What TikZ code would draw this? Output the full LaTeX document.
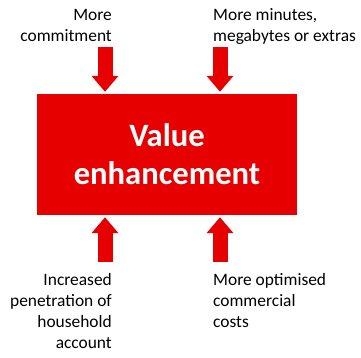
\documentclass[tikz,border=0pt]{standalone}
\usepackage{fontspec}
\setmainfont{Carlito}
\usetikzlibrary{arrows.meta}
\definecolor{vfred}{HTML}{E60000}
\begin{document}
\begin{tikzpicture}[x=1pt,y=-1pt,
		label/.style={inner sep=0pt,font=\fontsize{17.4}{21}\selectfont},
		push/.style={vfred,line width=15pt,-{Triangle[width=26pt,length=16pt]}}]
		\useasboundingbox (0,0) rectangle (361,357);
		% central box
		\node [fill=vfred,text=white,inner sep=0pt,minimum width=260pt,minimum height=121pt,
			align=center,font=\bfseries\fontsize{32.6}{38}\selectfont] (value) at (167,154.5) {Value\\enhancement};
		% drivers (anchored at the baseline of the last line)
		\node [label,anchor=base east,align=right] (commit) at (112,41) {More\\commitment};
		\node [label,anchor=base west,align=left] (extras) at (213,41) {More minutes,\\megabytes or extras};
		\node [label,anchor=base east,align=right] (house) at (112,348) {Increased\\penetration of\\household\\account};
		\node [label,anchor=base west,align=left] (costs) at (213,327) {More optimised\\commercial\\costs};
		% arrow ends
		\coordinate (a1) at (105,47);
		\coordinate (a2) at (220,47);
		\coordinate (b1) at (105,262);
		\coordinate (b2) at (220,262);
		\draw [push] (a1) -- ([yshift=2pt]a1 |- value.north);
		\draw [push] (a2) -- ([yshift=2pt]a2 |- value.north);
		\draw [push] (b1) -- ([yshift=-2pt]b1 |- value.south);
		\draw [push] (b2) -- ([yshift=-2pt]b2 |- value.south);
	\end{tikzpicture}
\end{document}
